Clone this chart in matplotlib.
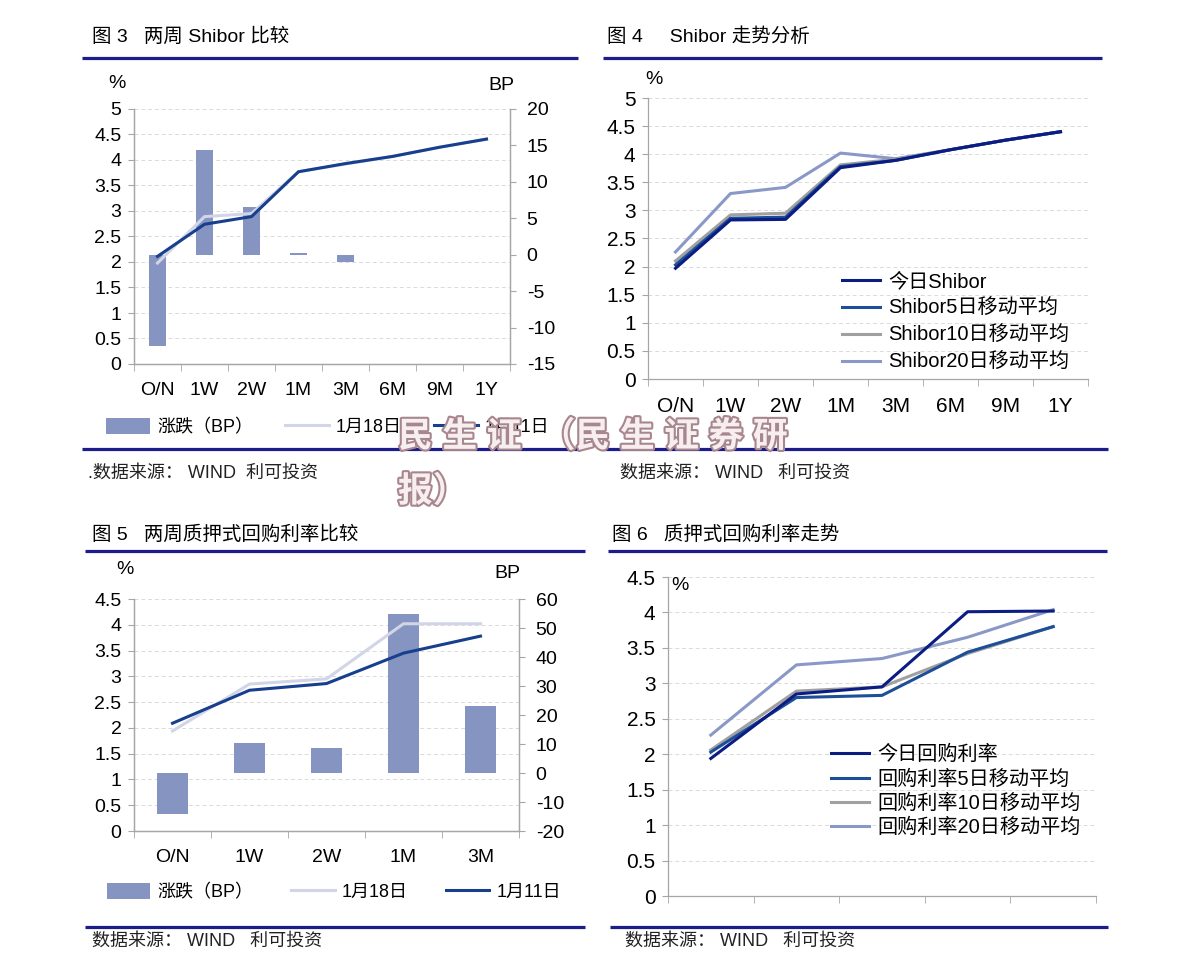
import matplotlib
matplotlib.use('Agg')
import matplotlib.pyplot as plt
import matplotlib.patheffects as pe
from matplotlib.lines import Line2D
from matplotlib.ticker import FuncFormatter
import numpy as np

plt.rcParams['font.family'] = ['Liberation Sans', 'Noto Sans CJK SC', 'DejaVu Sans']
plt.rcParams['axes.unicode_minus'] = False

W, H = 1191, 972

# ---- data ----
shibor_terms = ['O/N', '1W', '2W', '1M', '3M', '6M', '9M', '1Y']
shibor_chg = [-12.5, 14.4, 6.5, 0.2, -1.0, 0, 0, 0]          # BP
shibor_0118 = [1.98, 2.89, 2.95, 3.77, 3.92, 4.07, 4.25, 4.41]
shibor_0111 = [2.11, 2.74, 2.89, 3.77, 3.93, 4.07, 4.25, 4.41]

shibor_today = [1.97, 2.83, 2.84, 3.76, 3.89, 4.08, 4.25, 4.40]
shibor_ma5 = [2.03, 2.86, 2.88, 3.78, 3.89, 4.08, 4.25, 4.40]
shibor_ma10 = [2.10, 2.92, 2.95, 3.81, 3.91, 4.08, 4.25, 4.40]
shibor_ma20 = [2.26, 3.30, 3.41, 4.02, 3.92, 4.08, 4.25, 4.40]

repo_terms = ['O/N', '1W', '2W', '1M', '3M']
repo_chg = [-14.0, 10.2, 8.7, 54.8, 23.2]                     # BP
repo_0118 = [1.94, 2.85, 2.95, 4.02, 4.02]
repo_0111 = [2.09, 2.73, 2.86, 3.45, 3.78]

repo_today = [1.94, 2.85, 2.95, 4.01, 4.02]
repo_ma5 = [2.03, 2.80, 2.83, 3.44, 3.80]
repo_ma10 = [2.06, 2.89, 2.95, 3.42, 3.80]
repo_ma20 = [2.27, 3.26, 3.35, 3.65, 4.04]

# colours
bar_c = '#8594C0'
light_c = '#D2D5E8'
dark_c = '#173F8E'
navy_c = '#0B1C82'
blue_c = '#1D4E98'
grey_c = '#A0A0A0'
lav_c = '#8A98C8'
rule_c = '#1C1C8C'
axis_c = '#A6A6A6'


def fx(x):
    return x / W


def fy(y):
    return 1 - y / H


def px_axes(x0, y0, x1, y1):
    return fig.add_axes([fx(x0), fy(y1), (x1 - x0) / W, (y1 - y0) / H])


def style(ax, n, ymax, fs, labels=None, right=False):
    ax.set_xlim(-0.5, n - 0.5)
    ax.set_ylim(0, ymax)
    ax.set_yticks(np.arange(0, ymax + 0.01, 0.5))
    ax.yaxis.set_major_formatter(FuncFormatter(lambda v, p: f'{v:g}'))
    ax.set_xticks(range(n))
    ax.set_xticklabels(labels if labels else [''] * n)
    ax.set_xticks(np.arange(-0.5, n), minor=True)
    ax.tick_params(axis='x', which='major', length=0, pad=13, labelsize=fs)
    ax.tick_params(axis='x', which='minor', length=5, color=axis_c)
    ax.tick_params(axis='y', length=4, color=axis_c, labelsize=fs, pad=5)
    ax.grid(axis='y', color='#DADADA', ls=(0, (4, 3)), lw=0.7)
    ax.set_axisbelow(True)
    ax.spines['top'].set_visible(False)
    ax.spines['right'].set_visible(right)
    for s in ax.spines.values():
        s.set_color(axis_c)
        s.set_linewidth(0.9)


def hrule(x0, x1, y):
    fig.add_artist(Line2D([fx(x0), fx(x1)], [fy(y), fy(y)], transform=fig.transFigure,
                          color=rule_c, lw=2.3, solid_capstyle='butt'))


fig = plt.figure(figsize=(W / 100, H / 100), dpi=100)

# ---------- 图3 ----------
ax1 = px_axes(134, 109, 510, 364)
style(ax1, len(shibor_terms), 5, 14, shibor_terms, right=True)
ax1b = ax1.twinx()
x1 = np.arange(len(shibor_terms))
b1 = ax1b.bar(x1, shibor_chg, width=0.38, color=bar_c, label='涨跌（BP）')
l1a, = ax1b.plot(x1, shibor_0118, color=light_c, lw=2.2, transform=ax1.transData, label='1月18日')
l1b, = ax1b.plot(x1, shibor_0111, color=dark_c, lw=2.2, transform=ax1.transData, label='1月11日')
ax1b.set_ylim(-15, 20)
ax1b.set_yticks(np.arange(-15, 21, 5))
ax1b.tick_params(axis='y', length=4, color=axis_c, labelsize=14, pad=8)
ax1b.spines['top'].set_visible(False)
for s in ax1b.spines.values():
    s.set_color(axis_c)
    s.set_linewidth(0.9)
ax1.set_xlim(-0.5, len(shibor_terms) - 0.5)
ax1.set_ylim(0, 5)
fig.text(fx(117), fy(83), '%', fontsize=14, ha='center', va='center')
fig.text(fx(501), fy(85), 'BP', fontsize=14, ha='center', va='center')
fig.legend([b1, l1a, l1b], [b1.get_label(), l1a.get_label(), l1b.get_label()],
           loc='center', bbox_to_anchor=(fx(328), fy(427)), ncol=3, frameon=False,
           fontsize=13, handlelength=2.4, handleheight=1.0, columnspacing=1.8,
           handletextpad=0.4)

# ---------- 图4 ----------
ax2 = px_axes(648, 98, 1088, 379)
style(ax2, len(shibor_terms), 5, 15, shibor_terms)
x2 = np.arange(len(shibor_terms))
ax2.plot(x2, shibor_ma20, color=lav_c, lw=2.2, label='Shibor20日移动平均')
ax2.plot(x2, shibor_ma10, color=grey_c, lw=2.2, label='Shibor10日移动平均')
ax2.plot(x2, shibor_ma5, color=blue_c, lw=2.2, label='Shibor5日移动平均')
ax2.plot(x2, shibor_today, color=navy_c, lw=2.2, label='今日Shibor')
h, lab = ax2.get_legend_handles_labels()
ax2.legend(h[::-1], lab[::-1], loc='upper left', bbox_to_anchor=(fx(832), fy(262)),
           bbox_transform=fig.transFigure, frameon=False, fontsize=14.5,
           handlelength=1.9, labelspacing=0.4, borderpad=0, handletextpad=0.4)
fig.text(fx(654), fy(80), '%', fontsize=14, ha='center', va='center')

# ---------- 图5 ----------
ax3 = px_axes(134, 599, 519, 831)
style(ax3, len(repo_terms), 4.5, 14, repo_terms, right=True)
ax3b = ax3.twinx()
x3 = np.arange(len(repo_terms))
b3 = ax3b.bar(x3, repo_chg, width=0.39, color=bar_c, label='涨跌（BP）')
l3a, = ax3b.plot(x3, repo_0118, color=light_c, lw=2.2, transform=ax3.transData, label='1月18日')
l3b, = ax3b.plot(x3, repo_0111, color=dark_c, lw=2.2, transform=ax3.transData, label='1月11日')
ax3b.set_ylim(-20, 60)
ax3b.set_yticks(np.arange(-20, 61, 10))
ax3b.tick_params(axis='y', length=4, color=axis_c, labelsize=14, pad=8)
ax3b.spines['top'].set_visible(False)
for s in ax3b.spines.values():
    s.set_color(axis_c)
    s.set_linewidth(0.9)
ax3.set_xlim(-0.5, len(repo_terms) - 0.5)
ax3.set_ylim(0, 4.5)
fig.text(fx(125), fy(569), '%', fontsize=14, ha='center', va='center')
fig.text(fx(507), fy(573), 'BP', fontsize=14, ha='center', va='center')
fig.legend([b3, l3a, l3b], [b3.get_label(), l3a.get_label(), l3b.get_label()],
           loc='center', bbox_to_anchor=(fx(334), fy(892)), ncol=3, frameon=False,
           fontsize=13, handlelength=2.4, handleheight=1.0, columnspacing=2.1,
           handletextpad=0.4)

# ---------- 图6 ----------
ax4 = px_axes(668, 577, 1096, 896)
style(ax4, len(repo_terms), 4.5, 15)
x4 = np.arange(len(repo_terms))
ax4.plot(x4, repo_ma20, color=lav_c, lw=2.2, label='回购利率20日移动平均')
ax4.plot(x4, repo_ma10, color=grey_c, lw=2.2, label='回购利率10日移动平均')
ax4.plot(x4, repo_ma5, color=blue_c, lw=2.2, label='回购利率5日移动平均')
ax4.plot(x4, repo_today, color=navy_c, lw=2.2, label='今日回购利率')
h, lab = ax4.get_legend_handles_labels()
ax4.legend(h[::-1], lab[::-1], loc='upper left', bbox_to_anchor=(fx(821), fy(735)),
           bbox_transform=fig.transFigure, frameon=False, fontsize=14.5,
           handlelength=1.9, labelspacing=0.25, borderpad=0, handletextpad=0.4)
fig.text(fx(680), fy(586), '%', fontsize=14, ha='center', va='center')

# ---------- titles, rules, sources ----------
tkw = dict(fontsize=14, va='center', ha='left')
fig.text(fx(92), fy(37), '图 3   两周 Shibor 比较', **tkw)
fig.text(fx(607), fy(37), '图 4     Shibor 走势分析', **tkw)
fig.text(fx(92), fy(535), '图 5   两周质押式回购利率比较', **tkw)
fig.text(fx(612), fy(535), '图 6   质押式回购利率走势', **tkw)

hrule(82, 578, 58)
hrule(603, 1102, 58)
hrule(82, 580, 449)
hrule(603, 1108, 449)
hrule(85, 585, 551)
hrule(608, 1107, 551)
hrule(85, 585, 927)
hrule(610, 1108, 927)

skw = dict(fontsize=13, va='center', ha='left', color='#222222')
fig.text(fx(88), fy(473), '.数据来源： WIND  利可投资', **skw)
fig.text(fx(620), fy(473), '数据来源： WIND   利可投资', **skw)
fig.text(fx(92), fy(941), '数据来源： WIND   利可投资', **skw)
fig.text(fx(625), fy(941), '数据来源： WIND   利可投资', **skw)

# watermark
wkw = dict(fontsize=25, weight='bold', color='#F7EEF0', va='center', ha='left', zorder=20,
           path_effects=[pe.withStroke(linewidth=3, foreground='#A8868E')])
fig.text(fx(398), fy(437), '民 生 证  （民 生 证 券 研', **wkw)
fig.text(fx(398), fy(492), '报）', **wkw)

fig.savefig('out.png', dpi=100)
